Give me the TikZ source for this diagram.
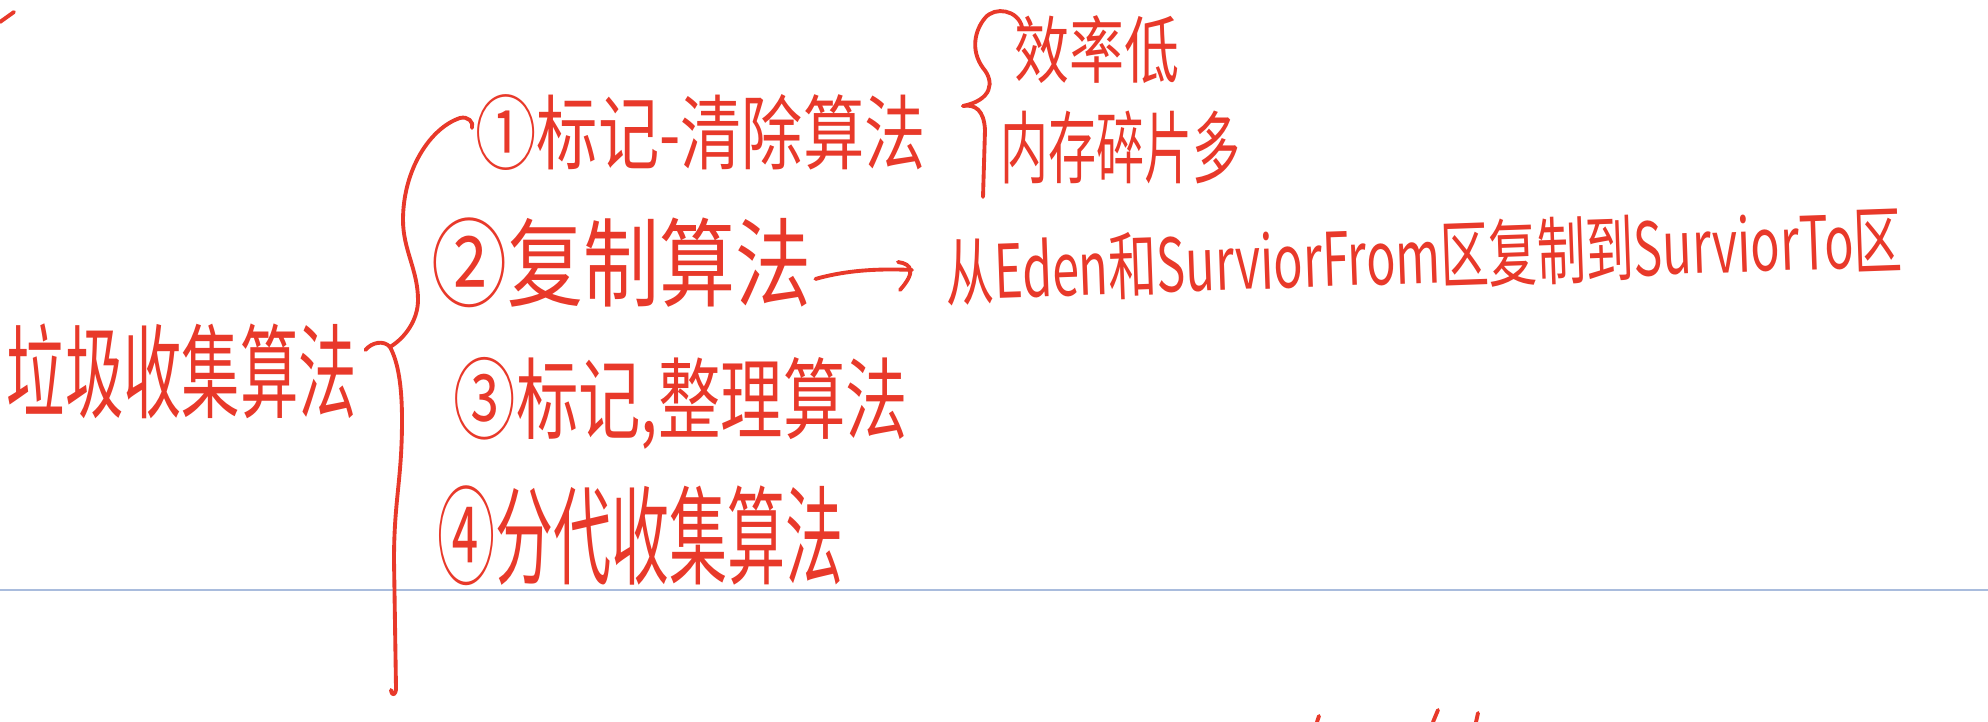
\documentclass[tikz,border=0pt]{standalone}
\usepackage{fontspec}
\newfontfamily\cjk{Noto Sans CJK SC}
\usetikzlibrary{calc}
\definecolor{ink}{HTML}{E8392A}
\definecolor{ruleblue}{HTML}{A9BCDD}
\newlength\pxu \setlength\pxu{0.01cm}
\newcommand\hw[3]{\resizebox*{#1\pxu}{#2\pxu}{\cjk #3}}
\begin{document}
\begin{tikzpicture}[x=0.01cm,y=-0.01cm,
  txt/.style={text=ink,inner sep=0pt,anchor=west},
  pen/.style={draw=ink,line width=1.1pt,line cap=round,line join=round}]
\useasboundingbox (0,0) rectangle (1988,722);
\draw[ruleblue,line width=0.8pt] (0,590) -- (1988,590);

% texts
\node[txt] (title) at (6,371) {\hw{350}{95}{垃圾收集算法}};
\node[txt] (a1) at (475,133) {\hw{450}{76}{①标记-清除算法}};
\node[txt] (a2) at (431,263) {\hw{380}{90}{②复制算法}};
\node[txt] (a3) at (453,403) {\hw{454}{92}{③标记,整理算法}};
\node[txt] (a4) at (437,536) {\hw{406}{100}{④分代收集算法}};
\node[txt] (e1) at (1014,50) {\hw{165}{68}{效率低}};
\node[txt] (e2) at (1000,147) {\hw{240}{73}{内存碎片多}};
\node[txt,rotate=2] (c2) at (945,272) {\hw{957}{68}{从Eden和SurviorFrom区复制到SurviorTo区}};

% big brace
\coordinate (b0) at ($(title.east)+(8,-21)$);
\coordinate (bm) at (390,347);
\draw[pen] (b0) .. controls (372,342) and (384,340) .. (bm)
  .. controls (405,338) and (418,320) .. (418,300)
  .. controls (418,270) and (403,250) .. (403,220)
  .. controls (403,170) and (430,128) .. (460,118)
  .. controls (468,116) and (474,122) .. (472,128);
\draw[pen] (bm) .. controls (398,362) and (402,385) .. (402,420)
  .. controls (402,480) and (394,500) .. (394,560)
  -- (396,688) .. controls (396,695) and (392,697) .. (391,690);

% small brace
\coordinate (s0) at (963,106);
\draw[pen] (1022,27) .. controls (1018,10) and (995,6) .. (985,18)
  .. controls (975,30) and (970,50) .. (983,68)
  .. controls (995,82) and (992,100) .. (s0);
\draw[pen] (s0) .. controls (975,104) and (984,110) .. (985,130) -- (983,197);

% arrow
\coordinate (t0) at ($(a2.east)+(3,16)$);
\coordinate (t1) at ($(c2.west)+(-33,-2)$);
\draw[pen] (t0) .. controls (840,272) and (870,268) .. (t1);
\draw[pen] ($(t1)+(-14,-8)$) .. controls ($(t1)+(0,-6)$) and ($(t1)+(4,2)$) .. ($(t1)+(-12,20)$);

% stray marks
\draw[pen] (0,22) -- (14,12);
\draw[pen] (1317,722) -- (1319,716);
\draw[pen] (1438,710) -- (1433,722);
\draw[pen] (1478,713) -- (1476,722);
\end{tikzpicture}
\end{document}
